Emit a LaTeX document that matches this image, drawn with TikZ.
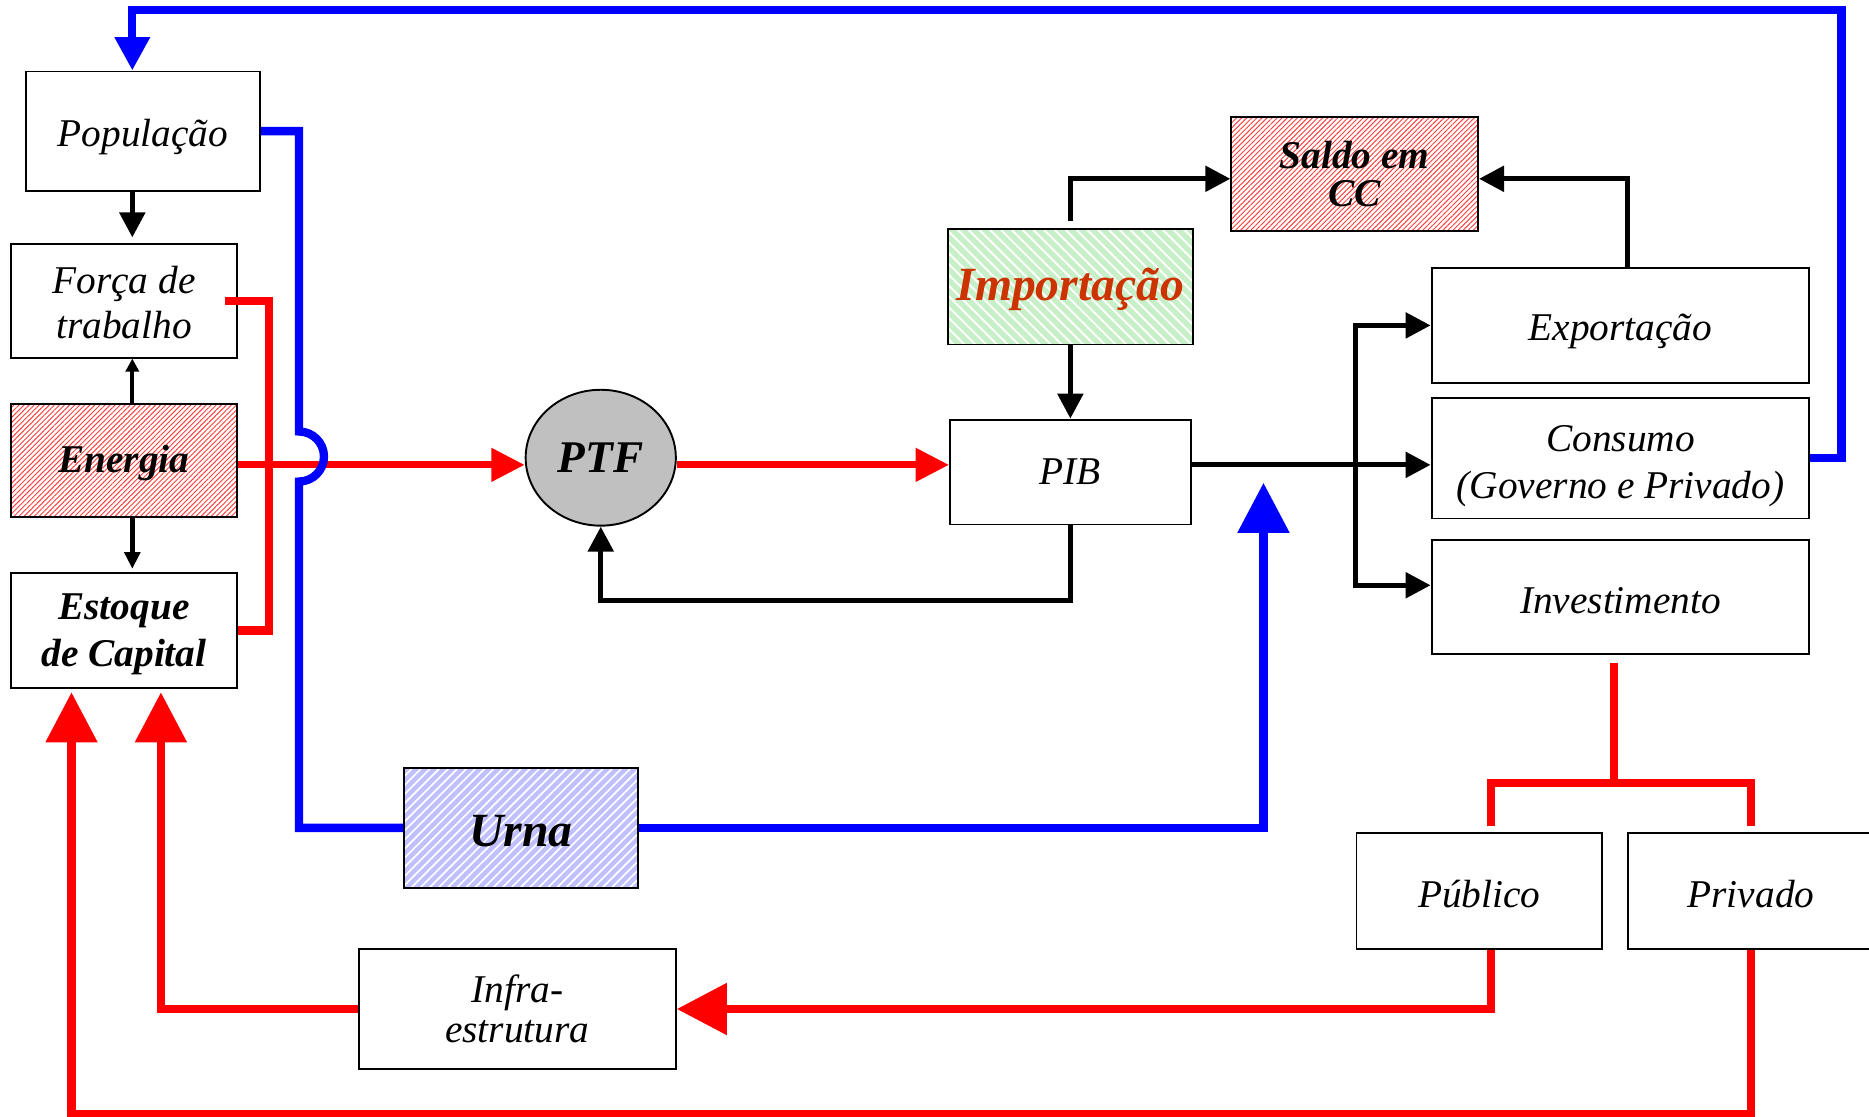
\documentclass[tikz,border=0pt]{standalone}
\usepackage{fontspec}
\setmainfont{Liberation Serif}
\usetikzlibrary{arrows.meta,patterns.meta,shapes.geometric}
\definecolor{hatchred}{HTML}{FF4040}
\definecolor{impgreen}{HTML}{C8F0C8}
\definecolor{urnablue}{HTML}{C0C0FF}
\definecolor{imptext}{HTML}{CC3300}
\definecolor{ptfgray}{HTML}{C0C0C0}
\definecolor{wirered}{HTML}{FF0000}
\definecolor{wireblue}{HTML}{0000FF}

\begin{document}
\begin{tikzpicture}[x=0.5pt,y=-0.5pt,
	box/.style={draw,line width=0.8pt,inner sep=0pt,align=center,font=\fontsize{16.5}{19}\selectfont\itshape},
	bbox/.style={box,font=\fontsize{16.5}{19.5}\selectfont\bfseries\itshape},
	redhatch/.style={preaction={fill=white},pattern={Lines[angle=45,distance=1.5pt,line width=0.4pt]},pattern color=hatchred},
	greenhatch/.style={preaction={fill=impgreen},pattern={Lines[angle=-45,distance=3.2pt,line width=0.8pt]},pattern color=white},
	bluehatch/.style={preaction={fill=urnablue},pattern={Lines[angle=45,distance=2.7pt,line width=0.7pt]},pattern color=white},
	blk/.style={line width=2.2pt},
	blkarrow/.style={blk,-{Triangle[length=10.5pt,width=10.5pt]}},
	redwire/.style={wirered,line width=3.5pt},
	bluewire/.style={wireblue,line width=3.5pt},
	midtip/.style={-{Triangle[length=14pt,width=13.5pt]}},
	bigtip/.style={-{Triangle[length=21pt,width=21pt]}}]
	\fill[white] (0,0) rectangle (1568,937);
	\useasboundingbox (0,0) rectangle (1568,937);

	\node[box,minimum width=98pt,minimum height=50pt] (pop) at (120,110) {\rule{0pt}{16pt}População};
	\node[box,minimum width=95pt,minimum height=47.5pt] (forca) at (104,252.5) {\rule{0pt}{13pt}Força de\\trabalho};
	\node[bbox,redhatch,minimum width=95pt,minimum height=47.5pt] (energia) at (104,386.5) {\rule{0pt}{13pt}Energia};
	\node[bbox,minimum width=95pt,minimum height=48pt] (estoque) at (104,529) {\rule{0pt}{14pt}Estoque\\de Capital};
	\node[ellipse,draw,line width=0.8pt,fill=ptfgray,inner sep=0pt,minimum width=63pt,minimum height=57pt,font=\fontsize{19}{22}\selectfont\bfseries\itshape] (ptf) at (504,384) {PTF};
	\node[bbox,greenhatch,text=imptext,font=\fontsize{20}{24}\selectfont\bfseries\itshape,minimum width=103pt,minimum height=48.5pt] (imp) at (898,240.5) {\rule{0pt}{16pt}Importação};
	\node[bbox,redhatch,font=\fontsize{16.5}{16}\selectfont\bfseries\itshape,minimum width=103.5pt,minimum height=48pt] (saldo) at (1136.5,146) {Saldo em\\CC};
	\node[box,minimum width=101pt,minimum height=44pt] (pib) at (898,396) {PIB};
	\node[box,minimum width=158.5pt,minimum height=48pt] (exp) at (1359.5,273) {\rule{0pt}{16pt}Exportação};
	\node[box,font=\fontsize{16.5}{20}\selectfont\itshape,minimum width=158.5pt,minimum height=50.5pt] (cons) at (1359.5,384.5) {\rule{0pt}{17.5pt}Consumo\\(Governo e Privado)};
	\node[box,minimum width=158.5pt,minimum height=48pt] (inv) at (1359.5,501) {\rule{0pt}{14pt}Investimento};
	\node[bbox,bluehatch,font=\fontsize{20}{24}\selectfont\bfseries\itshape,minimum width=98pt,minimum height=50.5pt] (urna) at (437,694.5) {\rule{0pt}{16pt}Urna};
	\node[box,minimum width=103pt,minimum height=48.5pt] (pub) at (1241,747.5) {\rule{0pt}{14pt}Público};
	\node[box,minimum width=103pt,minimum height=48.5pt] (priv) at (1469,747.5) {\rule{0pt}{14pt}Privado};
	\node[box,font=\fontsize{16.5}{16.5}\selectfont\itshape,minimum width=133pt,minimum height=50.5pt] (infra) at (434,846.5) {Infra-\\estrutura};

	\coordinate (axis) at (0,390);
	\coordinate (pibin) at (1060,405);

	\draw[redwire,line width=3pt,midtip] (energia.east |- axis) -- (ptf.west |- axis);
	\draw[redwire,line width=3pt,midtip] (ptf.east |- axis) -- (pib.west |- axis);
	\draw[redwire] ([xshift=-5.5pt]forca.east) -| ([xshift=13pt]estoque.east) -- (estoque.east);

	\draw[bluewire,-{Triangle[length=14pt,width=14pt]}] (cons.east) -- ++(26,0) |- ([shift={(-4.5pt,25.5pt)}]pop.north) -- ([xshift=-4.5pt]pop.north);
	\draw[bluewire] (pop.east) -- ++(32,0) -- ++(0,252) arc[start angle=90,end angle=-90,radius=10.5pt] |- (urna.west);
	\draw[bluewire,bigtip] (urna.east) -| (pibin);

	\draw[blkarrow] ([xshift=-4.5pt]pop.south) -- ([shift={(3.5pt,2.5pt)}]forca.north);
	\draw[blk,line width=1.8pt,-{Triangle[length=5.5pt,width=5.5pt]}] ([xshift=3.5pt]energia.north) -- ([xshift=3.5pt]forca.south);
	\draw[blk,-{Triangle[length=7pt,width=6.5pt]}] ([xshift=3.5pt]energia.south) -- ([shift={(3.5pt,1.5pt)}]estoque.north);
	\draw[blkarrow] (pib.south) -- ++(0,63) -| (ptf.south);
	\draw[blkarrow] (imp.south) -- (pib.north);
	\draw[blkarrow] ([yshift=3pt]imp.north) |- ([yshift=-2pt]saldo.west);
	\draw[blkarrow] ([xshift=3pt]exp.north) |- ([yshift=-2pt]saldo.east);
	\draw[blkarrow] (pib.east |- axis) -- (cons.west |- axis);
	\draw[blkarrow] ([xshift=-31.5pt,yshift=5pt]inv.west) |- (exp.west);
	\draw[blkarrow] ([xshift=-31.5pt]exp.west) |- ([yshift=5pt]inv.west);

	\draw[redwire] ([shift={(-2.75pt,-3pt)}]inv.south) -- ++(0,101) coordinate (fork);
	\draw[redwire] ([shift={(5pt,2.5pt)}]pub.north) |- (fork) -| ([yshift=2.5pt]priv.north);
	\draw[redwire,bigtip] ([xshift=5pt]pub.south) |- (infra.east);
	\draw[redwire,bigtip] (infra.west) -| ([shift={(15.5pt,-1.5pt)}]estoque.south);
	\draw[redwire,bigtip] (priv.south) -- ++(0,138) -| ([shift={(-22pt,-1.5pt)}]estoque.south);
\end{tikzpicture}
\end{document}
